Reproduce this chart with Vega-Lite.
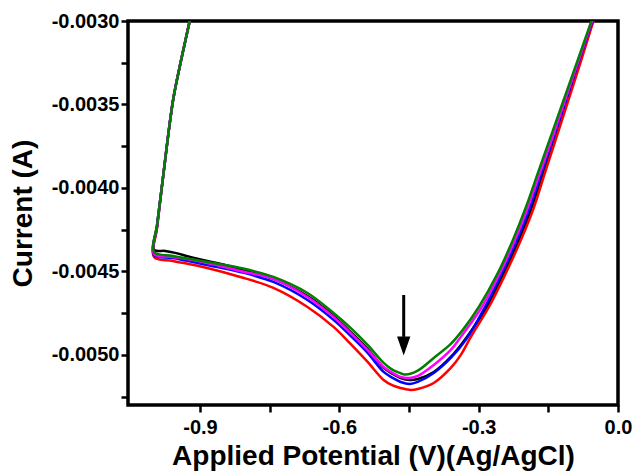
{
  "$schema": "https://vega.github.io/schema/vega-lite/v6.json",
  "width": 490,
  "height": 384,
  "autosize": "none",
  "padding": {"left": 128, "top": 21, "right": 18, "bottom": 69},
  "background": "white",
  "config": {
    "view": {"stroke": "black", "strokeWidth": 3.5},
    "axis": {
      "domain": false,
      "grid": false,
      "ticks": true,
      "tickColor": "black",
      "tickWidth": 2.5,
      "tickSize": 7,
      "labelFont": "Liberation Sans",
      "labelFontWeight": "bold",
      "labelFontSize": 20,
      "labelColor": "black",
      "labelFlush": false,
      "labelOverlap": false,
      "titleFont": "Liberation Sans",
      "titleFontWeight": "bold",
      "titleFontSize": 28,
      "titleColor": "black"
    }
  },
  "datasets": {
    "cv": [
      {"scan":"1","i":1,"E":-0.9125,"I":-0.002874},
      {"scan":"1","i":2,"E":-0.9212,"I":-0.002988},
      {"scan":"1","i":3,"E":-0.9406,"I":-0.003234},
      {"scan":"1","i":4,"E":-0.9579,"I":-0.003473},
      {"scan":"1","i":5,"E":-0.9795,"I":-0.003934},
      {"scan":"1","i":6,"E":-0.9924,"I":-0.004222},
      {"scan":"1","i":7,"E":-0.9989,"I":-0.004371},
      {"scan":"1","i":8,"E":-0.9751,"I":-0.004377},
      {"scan":"1","i":9,"E":-0.9535,"I":-0.004389},
      {"scan":"1","i":10,"E":-0.9212,"I":-0.004413},
      {"scan":"1","i":11,"E":-0.8845,"I":-0.004437},
      {"scan":"1","i":12,"E":-0.8133,"I":-0.004485},
      {"scan":"1","i":13,"E":-0.7420,"I":-0.004545},
      {"scan":"1","i":14,"E":-0.6686,"I":-0.004647},
      {"scan":"1","i":15,"E":-0.6125,"I":-0.004766},
      {"scan":"1","i":16,"E":-0.5758,"I":-0.004862},
      {"scan":"1","i":17,"E":-0.5391,"I":-0.004964},
      {"scan":"1","i":18,"E":-0.5046,"I":-0.005078},
      {"scan":"1","i":19,"E":-0.4852,"I":-0.005114},
      {"scan":"1","i":20,"E":-0.4679,"I":-0.005138},
      {"scan":"1","i":21,"E":-0.4485,"I":-0.005150},
      {"scan":"1","i":22,"E":-0.4312,"I":-0.005144},
      {"scan":"1","i":23,"E":-0.3967,"I":-0.005102},
      {"scan":"1","i":24,"E":-0.3600,"I":-0.005012},
      {"scan":"1","i":25,"E":-0.3254,"I":-0.004892},
      {"scan":"1","i":26,"E":-0.2823,"I":-0.004713},
      {"scan":"1","i":27,"E":-0.2456,"I":-0.004509},
      {"scan":"1","i":28,"E":-0.2132,"I":-0.004311},
      {"scan":"1","i":29,"E":-0.1852,"I":-0.004114},
      {"scan":"1","i":30,"E":-0.1616,"I":-0.003910},
      {"scan":"1","i":31,"E":-0.1388,"I":-0.003713},
      {"scan":"1","i":32,"E":-0.1144,"I":-0.003503},
      {"scan":"1","i":33,"E":-0.0809,"I":-0.003222},
      {"scan":"1","i":34,"E":-0.0535,"I":-0.002988},
      {"scan":"1","i":35,"E":-0.0390,"I":-0.002874},

      {"scan":"2","i":1,"E":-0.9125,"I":-0.002874},
      {"scan":"2","i":2,"E":-0.9212,"I":-0.002988},
      {"scan":"2","i":3,"E":-0.9406,"I":-0.003234},
      {"scan":"2","i":4,"E":-0.9579,"I":-0.003473},
      {"scan":"2","i":5,"E":-0.9795,"I":-0.003934},
      {"scan":"2","i":6,"E":-0.9924,"I":-0.004240},
      {"scan":"2","i":7,"E":-0.9989,"I":-0.004413},
      {"scan":"2","i":8,"E":-0.9579,"I":-0.004437},
      {"scan":"2","i":9,"E":-0.8845,"I":-0.004479},
      {"scan":"2","i":10,"E":-0.8133,"I":-0.004533},
      {"scan":"2","i":11,"E":-0.7420,"I":-0.004599},
      {"scan":"2","i":12,"E":-0.6686,"I":-0.004713},
      {"scan":"2","i":13,"E":-0.6125,"I":-0.004832},
      {"scan":"2","i":14,"E":-0.5758,"I":-0.004934},
      {"scan":"2","i":15,"E":-0.5391,"I":-0.005042},
      {"scan":"2","i":16,"E":-0.5046,"I":-0.005150},
      {"scan":"2","i":17,"E":-0.4852,"I":-0.005183},
      {"scan":"2","i":18,"E":-0.4679,"I":-0.005198},
      {"scan":"2","i":19,"E":-0.4463,"I":-0.005210},
      {"scan":"2","i":20,"E":-0.4312,"I":-0.005204},
      {"scan":"2","i":21,"E":-0.3967,"I":-0.005168},
      {"scan":"2","i":22,"E":-0.3600,"I":-0.005078},
      {"scan":"2","i":23,"E":-0.3384,"I":-0.005000},
      {"scan":"2","i":24,"E":-0.3168,"I":-0.004892},
      {"scan":"2","i":25,"E":-0.2780,"I":-0.004713},
      {"scan":"2","i":26,"E":-0.2413,"I":-0.004509},
      {"scan":"2","i":27,"E":-0.2089,"I":-0.004311},
      {"scan":"2","i":28,"E":-0.1808,"I":-0.004114},
      {"scan":"2","i":29,"E":-0.1573,"I":-0.003910},
      {"scan":"2","i":30,"E":-0.1344,"I":-0.003713},
      {"scan":"2","i":31,"E":-0.1100,"I":-0.003503},
      {"scan":"2","i":32,"E":-0.0777,"I":-0.003222},
      {"scan":"2","i":33,"E":-0.0513,"I":-0.002988},
      {"scan":"2","i":34,"E":-0.0369,"I":-0.002874},

      {"scan":"3","i":1,"E":-0.9125,"I":-0.002874},
      {"scan":"3","i":2,"E":-0.9212,"I":-0.002988},
      {"scan":"3","i":3,"E":-0.9406,"I":-0.003234},
      {"scan":"3","i":4,"E":-0.9579,"I":-0.003473},
      {"scan":"3","i":5,"E":-0.9795,"I":-0.003934},
      {"scan":"3","i":6,"E":-0.9924,"I":-0.004230},
      {"scan":"3","i":7,"E":-0.9989,"I":-0.004401},
      {"scan":"3","i":8,"E":-0.9579,"I":-0.004419},
      {"scan":"3","i":9,"E":-0.8845,"I":-0.004461},
      {"scan":"3","i":10,"E":-0.8133,"I":-0.004503},
      {"scan":"3","i":11,"E":-0.7420,"I":-0.004563},
      {"scan":"3","i":12,"E":-0.6686,"I":-0.004671},
      {"scan":"3","i":13,"E":-0.6125,"I":-0.004790},
      {"scan":"3","i":14,"E":-0.5758,"I":-0.004886},
      {"scan":"3","i":15,"E":-0.5391,"I":-0.004988},
      {"scan":"3","i":16,"E":-0.5046,"I":-0.005102},
      {"scan":"3","i":17,"E":-0.4852,"I":-0.005138},
      {"scan":"3","i":18,"E":-0.4679,"I":-0.005162},
      {"scan":"3","i":19,"E":-0.4485,"I":-0.005174},
      {"scan":"3","i":20,"E":-0.4312,"I":-0.005162},
      {"scan":"3","i":21,"E":-0.3967,"I":-0.005108},
      {"scan":"3","i":22,"E":-0.3600,"I":-0.005018},
      {"scan":"3","i":23,"E":-0.3276,"I":-0.004910},
      {"scan":"3","i":24,"E":-0.2866,"I":-0.004713},
      {"scan":"3","i":25,"E":-0.2499,"I":-0.004509},
      {"scan":"3","i":26,"E":-0.2175,"I":-0.004311},
      {"scan":"3","i":27,"E":-0.1895,"I":-0.004114},
      {"scan":"3","i":28,"E":-0.1649,"I":-0.003910},
      {"scan":"3","i":29,"E":-0.1409,"I":-0.003713},
      {"scan":"3","i":30,"E":-0.1154,"I":-0.003503},
      {"scan":"3","i":31,"E":-0.0820,"I":-0.003222},
      {"scan":"3","i":32,"E":-0.0535,"I":-0.002988},
      {"scan":"3","i":33,"E":-0.0390,"I":-0.002874},

      {"scan":"4","i":1,"E":-0.9125,"I":-0.002874},
      {"scan":"4","i":2,"E":-0.9212,"I":-0.002988},
      {"scan":"4","i":3,"E":-0.9406,"I":-0.003234},
      {"scan":"4","i":4,"E":-0.9579,"I":-0.003473},
      {"scan":"4","i":5,"E":-0.9795,"I":-0.003934},
      {"scan":"4","i":6,"E":-0.9924,"I":-0.004226},
      {"scan":"4","i":7,"E":-0.9989,"I":-0.004395},
      {"scan":"4","i":8,"E":-0.9579,"I":-0.004413},
      {"scan":"4","i":9,"E":-0.8845,"I":-0.004449},
      {"scan":"4","i":10,"E":-0.8133,"I":-0.004497},
      {"scan":"4","i":11,"E":-0.7420,"I":-0.004545},
      {"scan":"4","i":12,"E":-0.6686,"I":-0.004653},
      {"scan":"4","i":13,"E":-0.6125,"I":-0.004772},
      {"scan":"4","i":14,"E":-0.5758,"I":-0.004868},
      {"scan":"4","i":15,"E":-0.5391,"I":-0.004970},
      {"scan":"4","i":16,"E":-0.5046,"I":-0.005072},
      {"scan":"4","i":17,"E":-0.4852,"I":-0.005108},
      {"scan":"4","i":18,"E":-0.4679,"I":-0.005132},
      {"scan":"4","i":19,"E":-0.4485,"I":-0.005138},
      {"scan":"4","i":20,"E":-0.4312,"I":-0.005126},
      {"scan":"4","i":21,"E":-0.3967,"I":-0.005060},
      {"scan":"4","i":22,"E":-0.3600,"I":-0.004970},
      {"scan":"4","i":23,"E":-0.3384,"I":-0.004892},
      {"scan":"4","i":24,"E":-0.2931,"I":-0.004713},
      {"scan":"4","i":25,"E":-0.2542,"I":-0.004509},
      {"scan":"4","i":26,"E":-0.2218,"I":-0.004311},
      {"scan":"4","i":27,"E":-0.1938,"I":-0.004114},
      {"scan":"4","i":28,"E":-0.1681,"I":-0.003910},
      {"scan":"4","i":29,"E":-0.1431,"I":-0.003713},
      {"scan":"4","i":30,"E":-0.1176,"I":-0.003503},
      {"scan":"4","i":31,"E":-0.0831,"I":-0.003222},
      {"scan":"4","i":32,"E":-0.0546,"I":-0.002988},
      {"scan":"4","i":33,"E":-0.0401,"I":-0.002874},

      {"scan":"5","i":1,"E":-0.9125,"I":-0.002874},
      {"scan":"5","i":2,"E":-0.9212,"I":-0.002988},
      {"scan":"5","i":3,"E":-0.9406,"I":-0.003234},
      {"scan":"5","i":4,"E":-0.9579,"I":-0.003473},
      {"scan":"5","i":5,"E":-0.9795,"I":-0.003934},
      {"scan":"5","i":6,"E":-0.9924,"I":-0.004222},
      {"scan":"5","i":7,"E":-0.9989,"I":-0.004383},
      {"scan":"5","i":8,"E":-0.9579,"I":-0.004407},
      {"scan":"5","i":9,"E":-0.8845,"I":-0.004443},
      {"scan":"5","i":10,"E":-0.8133,"I":-0.004479},
      {"scan":"5","i":11,"E":-0.7420,"I":-0.004533},
      {"scan":"5","i":12,"E":-0.6686,"I":-0.004629},
      {"scan":"5","i":13,"E":-0.6125,"I":-0.004749},
      {"scan":"5","i":14,"E":-0.5758,"I":-0.004838},
      {"scan":"5","i":15,"E":-0.5391,"I":-0.004940},
      {"scan":"5","i":16,"E":-0.5046,"I":-0.005048},
      {"scan":"5","i":17,"E":-0.4852,"I":-0.005090},
      {"scan":"5","i":18,"E":-0.4679,"I":-0.005110},
      {"scan":"5","i":19,"E":-0.4571,"I":-0.005118},
      {"scan":"5","i":20,"E":-0.4312,"I":-0.005094},
      {"scan":"5","i":21,"E":-0.3967,"I":-0.005018},
      {"scan":"5","i":22,"E":-0.3600,"I":-0.004934},
      {"scan":"5","i":23,"E":-0.3341,"I":-0.004850},
      {"scan":"5","i":24,"E":-0.2996,"I":-0.004713},
      {"scan":"5","i":25,"E":-0.2585,"I":-0.004509},
      {"scan":"5","i":26,"E":-0.2262,"I":-0.004311},
      {"scan":"5","i":27,"E":-0.1981,"I":-0.004114},
      {"scan":"5","i":28,"E":-0.1724,"I":-0.003910},
      {"scan":"5","i":29,"E":-0.1474,"I":-0.003713},
      {"scan":"5","i":30,"E":-0.1208,"I":-0.003503},
      {"scan":"5","i":31,"E":-0.0852,"I":-0.003222},
      {"scan":"5","i":32,"E":-0.0557,"I":-0.002988},
      {"scan":"5","i":33,"E":-0.0412,"I":-0.002874}
    ],
    "arrow": [
      {"E": -0.4614, "top": -0.004641, "base": -0.004892, "head": -0.004946}
    ]
  },
  "layer": [
    {
      "data": {"name": "cv"},
      "mark": {"type": "line", "strokeWidth": 2.5, "clip": true, "interpolate": "catmull-rom"},
      "encoding": {
        "x": {
          "field": "E", "type": "quantitative",
          "scale": {"domain": [-1.055, 0], "nice": false, "zero": false},
          "axis": {
            "title": "Applied Potential (V)(Ag/AgCl)",
            "values": [-0.9, -0.75, -0.6, -0.45, -0.3, -0.15, 0],
            "labelExpr": "abs(datum.value/0.3 - round(datum.value/0.3)) < 0.01 ? (datum.value < -0.0001 ? '-' + format(abs(datum.value), '.1f') : format(abs(datum.value), '.1f')) : ''",
            "labelPadding": 5,
            "titlePadding": 5
          }
        },
        "y": {
          "field": "I", "type": "quantitative",
          "scale": {"domain": [-0.0053, -0.0030], "nice": false, "zero": false},
          "axis": {
            "title": "Current (A)",
            "values": [-0.003, -0.00325, -0.0035, -0.00375, -0.004, -0.00425, -0.0045, -0.00475, -0.005, -0.00525],
            "labelExpr": "abs(datum.value/0.0005 - round(datum.value/0.0005)) < 0.01 ? '-' + format(abs(datum.value), '.4f') : ''",
            "labelPadding": 2,
            "titlePadding": 14
          }
        },
        "color": {
          "field": "scan", "type": "nominal",
          "scale": {"domain": ["1", "2", "3", "4", "5"], "range": ["#000000", "#ff0000", "#0000ff", "#ff00ff", "#008000"]},
          "legend": null
        },
        "order": {"field": "i", "type": "quantitative"}
      }
    },
    {
      "data": {"name": "arrow"},
      "mark": {"type": "rule", "color": "black", "strokeWidth": 3},
      "encoding": {
        "x": {"field": "E", "type": "quantitative", "title": "Applied Potential (V)(Ag/AgCl)"},
        "y": {"field": "top", "type": "quantitative", "title": "Current (A)"},
        "y2": {"field": "base"}
      }
    },
    {
      "data": {"name": "arrow"},
      "mark": {"type": "point", "shape": "M-0.7,-1L0.7,-1L0,1Z", "filled": true, "color": "black", "opacity": 1, "size": 361, "strokeWidth": 0},
      "encoding": {
        "x": {"field": "E", "type": "quantitative", "title": "Applied Potential (V)(Ag/AgCl)"},
        "y": {"field": "head", "type": "quantitative", "title": "Current (A)"}
      }
    }
  ]
}
